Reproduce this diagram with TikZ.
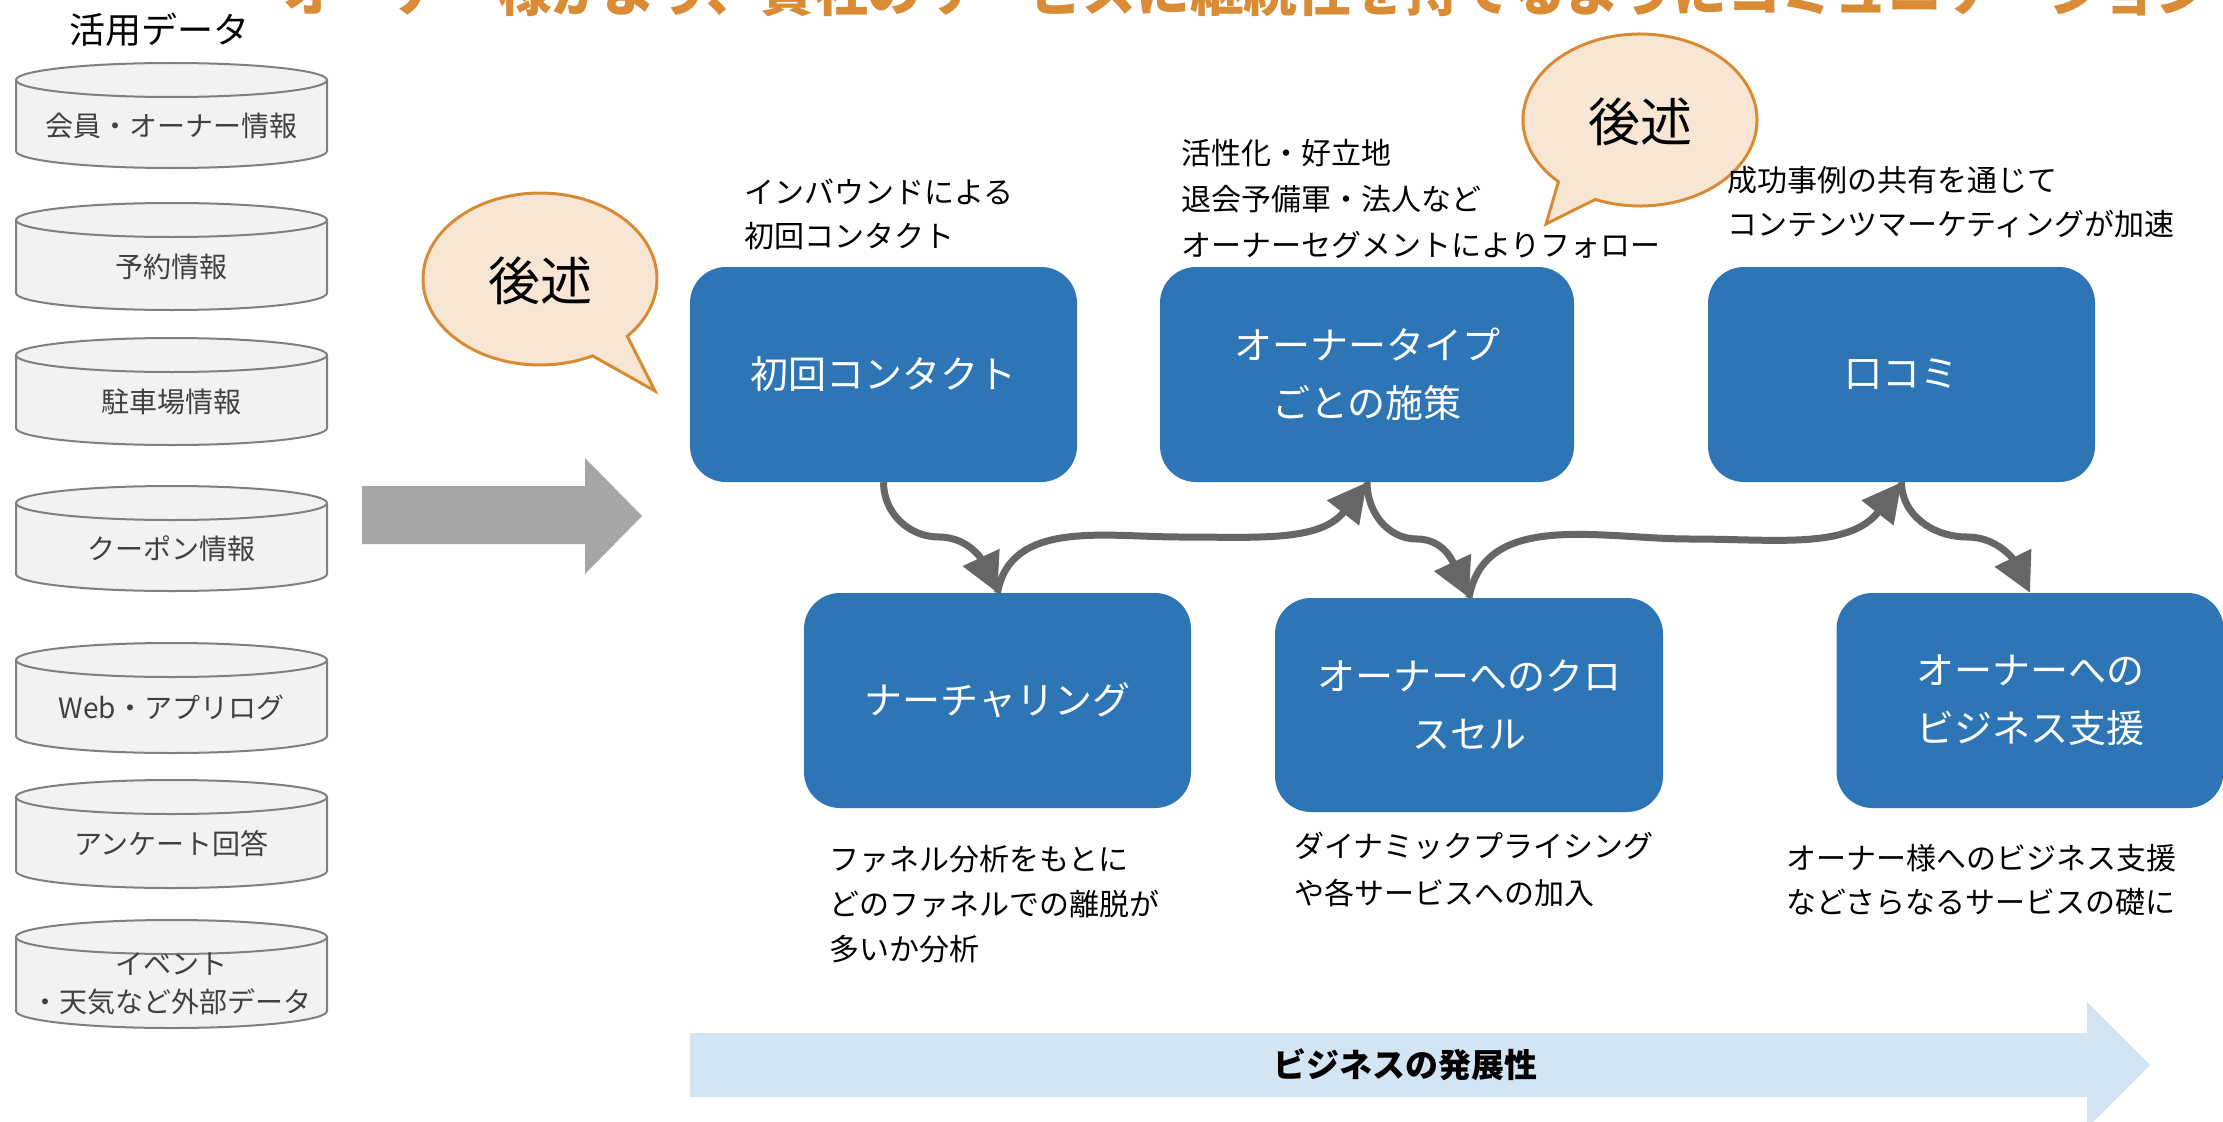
\documentclass[tikz,border=0pt]{standalone}
\usepackage{fontspec}
\newfontfamily\jp{Noto Sans CJK JP}
\usetikzlibrary{arrows.meta}
\definecolor{boxblue}{HTML}{2E75B6}
\definecolor{arrowgray}{HTML}{676566}
\definecolor{biggray}{HTML}{A6A6A6}
\definecolor{bubblefill}{HTML}{F8E6D4}
\definecolor{bubbleline}{HTML}{D88B35}
\definecolor{titleorange}{HTML}{DA8B36}
\definecolor{cylfill}{HTML}{F2F2F2}
\definecolor{cylline}{HTML}{7F7F7F}
\definecolor{cyltext}{HTML}{404040}
\definecolor{devblue}{HTML}{D3E4F3}
\newcommand\dbcyl[4]{%
  \filldraw[cylstyle] (16,-#2-17) -- (16,-#3+17)
    arc[start angle=180,end angle=360,x radius=155.5,y radius=17]
    -- (327,-#2-17)
    arc[start angle=0,end angle=180,x radius=155.5,y radius=17] -- cycle;
  \draw[cylstyle,fill=none] (16,-#2-17)
    arc[start angle=180,end angle=360,x radius=155.5,y radius=17];
  \node[cyltxt] (#1) at (171.5,{-(#2+#3)/2-10}) {#4};}
\begin{document}
\begin{tikzpicture}[x=1pt,y=1pt,
  box/.style={fill=boxblue, rounded corners=36pt, minimum width=387pt,
    minimum height=215pt, text=white, font=\jp\fontsize{38}{58}\selectfont,
    align=center, inner sep=0pt},
  flow/.style={draw=arrowgray, line width=7pt,
    -{Triangle[length=39pt,width=39pt]}},
  lbl/.style={font=\jp\fontsize{30}{45}\selectfont, align=left,
    anchor=west, inner sep=0pt},
  cyltxt/.style={font=\jp\fontsize{28}{38}\selectfont, text=cyltext,
    align=center, inner sep=0pt},
  cylstyle/.style={fill=cylfill, draw=cylline, line width=2pt},
  bubble/.style={fill=bubblefill, draw=bubbleline, line width=3pt},
  bubtxt/.style={font=\jp\fontsize{52}{52}\selectfont, inner sep=0pt}]
\useasboundingbox (0,0) rectangle (2223,-1121);
\fill[white] (0,0) rectangle (2223,-1121);
\clip (0,0) rectangle (2223,-1121);

% title (cut off at the top, as in the reference)
\node[anchor=base west, inner sep=0pt, font=\jp\bfseries\fontsize{53.7}{53.7}\selectfont,
  text=titleorange] (title) at (283,-11.5)
  {オーナー様がより、貴社のサービスに継続性を持てるようにコミュニケーション};

% data sources
\node[font=\jp\fontsize{36}{36}\selectfont, inner sep=0pt] (datahead) at (159,-30) {活用データ};
\dbcyl{c1}{63}{168}{会員・オーナー情報}
\dbcyl{c2}{203}{310}{予約情報}
\dbcyl{c3}{338}{445}{駐車場情報}
\dbcyl{c4}{486}{591}{クーポン情報}
\dbcyl{c5}{643}{753}{Web・アプリログ}
\dbcyl{c6}{780}{888}{アンケート回答}
\dbcyl{c7}{920}{1028}{イベント\\・天気など外部データ}

% big gray arrow
\fill[biggray] (362,-486) -- (585,-486) -- (585,-458) -- (642,-516)
  -- (585,-574) -- (585,-544) -- (362,-544) -- cycle;

% speech bubbles
\draw[bubble] (540,-279) ++(-41.7:117 and 86)
  arc[start angle=-41.7,end angle=296.7,x radius=117,y radius=86]
  -- (655,-391) -- cycle;
\node[bubtxt] (bub1) at (540,-281) {後述};
\draw[bubble] (1640,-120) ++(-112.5:117 and 86)
  arc[start angle=-112.5,end angle=225.8,x radius=117,y radius=86]
  -- (1546,-224) -- cycle;
\node[bubtxt] (bub2) at (1640,-122) {後述};

% boxes
\node[box] (b1) at (883.5,-374.5) {初回コンタクト};
\node[box, minimum width=414pt] (b2) at (1367,-374.5) {オーナータイプ\\ごとの施策};
\node[box] (b3) at (1901.5,-374.5) {口コミ};
\node[box] (b4) at (997.5,-700.5) {ナーチャリング};
\node[box, minimum width=388pt, minimum height=214pt] (b5) at (1469,-705) {オーナーへのクロ\\スセル};
\node[box] (b6) at (2030,-700.5) {オーナーへの\\ビジネス支援};

% flow arrows
\coordinate (m1) at (939,-537);
\coordinate (m2) at (1180,-537);
\coordinate (m3) at (1417,-539);
\coordinate (m4) at (1690,-539);
\coordinate (m5) at (1967,-537);
\draw[flow] (b1.south) to[out=-90,in=180] (m1) to[out=0,in=115] (b4.north);
\draw[flow] (b4.north) to[out=80,in=180] (m2) to[out=0,in=-128] (b2.south);
\draw[flow] (b2.south) to[out=-90,in=180] (m3) to[out=0,in=115] (b5.north);
\draw[flow] (b5.north) to[out=80,in=180] (m4) to[out=0,in=-128] (b3.south);
\draw[flow] (b3.south) to[out=-90,in=180] (m5) to[out=0,in=116] (b6.north);

% labels
\node[lbl, font=\jp\fontsize{30}{44}\selectfont] (l1) at (744,-214) {インバウンドによる\\初回コンタクト};
\node[lbl, font=\jp\fontsize{30}{46}\selectfont] (l2) at (1181,-199) {活性化・好立地\\退会予備軍・法人など\\オーナーセグメントによりフォロー};
\node[lbl, font=\jp\fontsize{30}{44}\selectfont] (l3) at (1727,-202) {成功事例の共有を通じて\\コンテンツマーケティングが加速};
\node[lbl] (l4) at (829,-904) {ファネル分析をもとに\\どのファネルでの離脱が\\多いか分析};
\node[lbl, font=\jp\fontsize{30}{47}\selectfont] (l5) at (1294,-869.5) {ダイナミックプライシング\\や各サービスへの加入};
\node[lbl, font=\jp\fontsize{30}{44}\selectfont] (l6) at (1786,-880) {オーナー様へのビジネス支援\\などさらなるサービスの礎に};

% business development arrow
\fill[devblue] (690,-1033) -- (2087,-1033) -- (2087,-1002) -- (2150,-1065)
  -- (2087,-1128) -- (2087,-1097) -- (690,-1097) -- cycle;
\node[font=\jp\bfseries\fontsize{33}{33}\selectfont, inner sep=0pt] (dev) at (1405,-1065) {ビジネスの発展性};
\end{tikzpicture}
\end{document}
